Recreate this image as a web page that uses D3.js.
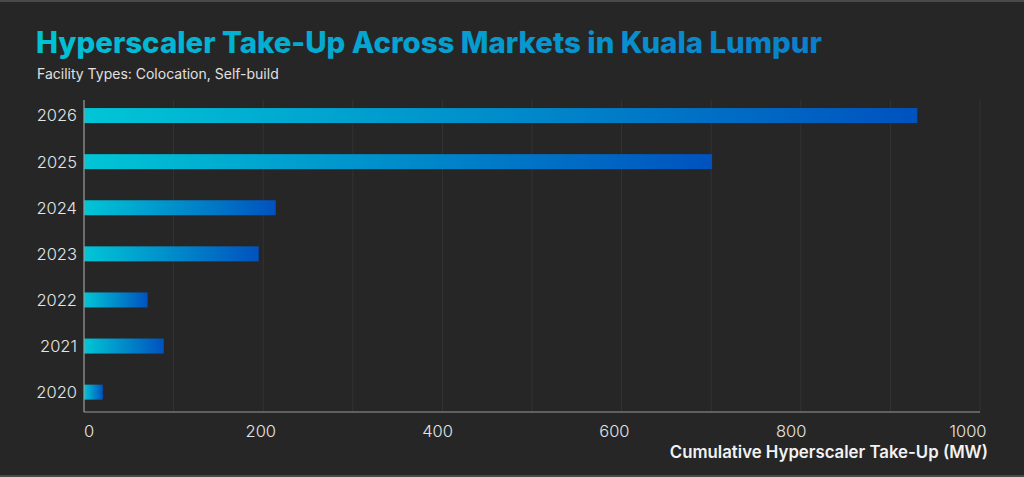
<!DOCTYPE html>
<html>
<head>
<meta charset="utf-8">
<script src="https://d3js.org/d3.v7.min.js"></script>
<style>
  body { margin: 0; background: #262626; }
  svg { display: block; }
</style>
</head>
<body>
<script>
// data
var years = ['2026', '2025', '2024', '2023', '2022', '2021', '2020'];
var takeUp = [930, 701, 214, 195, 71, 89, 21];
var xTicks = [0, 200, 400, 600, 800, 1000];
var gridTicks = [0, 100, 200, 300, 400, 500, 600, 700, 800, 900, 1000];

var W = 1024, H = 477;

var svg = d3.select('body').append('svg')
    .attr('width', W)
    .attr('height', H);

svg.append('rect')
    .attr('width', W)
    .attr('height', H)
    .attr('fill', '#262626');

// thin frame lines top and bottom
svg.append('rect').attr('x', 0).attr('y', 0).attr('width', W).attr('height', 2).attr('fill', '#4a4a4a');
svg.append('rect').attr('x', 0).attr('y', H - 2).attr('width', W).attr('height', 2).attr('fill', '#4a4a4a');

var defs = svg.append('defs');

var titleGrad = defs.append('linearGradient')
    .attr('id', 'titleGrad')
    .attr('x1', '0%').attr('x2', '100%').attr('y1', '0%').attr('y2', '0%');
titleGrad.append('stop').attr('offset', '0%').attr('stop-color', '#00c2d4');
titleGrad.append('stop').attr('offset', '100%').attr('stop-color', '#0a7fcc');

var barGrad = defs.append('linearGradient')
    .attr('id', 'barGrad')
    .attr('x1', '0%').attr('x2', '100%').attr('y1', '0%').attr('y2', '0%');
barGrad.append('stop').attr('offset', '0%').attr('stop-color', '#00c6d6');
barGrad.append('stop').attr('offset', '100%').attr('stop-color', '#0052bf');

var x = d3.scaleLinear().domain([0, 1000]).range([84, 980]);
var y = d3.scaleBand().domain(years).range([92.5, 415.2])
    .paddingInner(0.675).paddingOuter(0.3375);

var axisTop = 100, axisBottom = 412;

// gridlines
svg.append('g')
    .selectAll('line')
    .data(gridTicks)
    .enter()
    .append('line')
    .attr('x1', function(d){ return x(d); })
    .attr('x2', function(d){ return x(d); })
    .attr('y1', axisTop)
    .attr('y2', axisBottom)
    .attr('stroke', '#333333')
    .attr('stroke-width', 1);

// bars
svg.append('g')
    .selectAll('rect')
    .data(years)
    .enter()
    .append('rect')
    .attr('x', x(0))
    .attr('y', function(d){ return y(d); })
    .attr('width', function(d, i){ return x(takeUp[i]) - x(0); })
    .attr('height', y.bandwidth())
    .attr('fill', 'url(#barGrad)');

// axis lines
svg.append('line')
    .attr('x1', x(0)).attr('x2', x(0))
    .attr('y1', axisTop).attr('y2', axisBottom)
    .attr('stroke', '#9a9a9a').attr('stroke-width', 1.2);
svg.append('line')
    .attr('x1', x(0)).attr('x2', x(1000))
    .attr('y1', axisBottom).attr('y2', axisBottom)
    .attr('stroke', '#9a9a9a').attr('stroke-width', 1.2);

// year labels
svg.append('g')
    .selectAll('text')
    .data(years)
    .enter()
    .append('text')
    .attr('x', 77)
    .attr('y', function(d){ return y(d) + y.bandwidth() / 2; })
    .attr('dy', '0.36em')
    .attr('text-anchor', 'end')
    .attr('fill', '#e4e4e4')
    .style('font-family', 'Inter, sans-serif')
    .style('font-weight', '300')
    .style('font-size', '16.5px')
    .text(function(d){ return d; });

// x tick labels
svg.append('g')
    .selectAll('text')
    .data(xTicks)
    .enter()
    .append('text')
    .attr('x', function(d){ return x(d) - d * 0.012; })
    .attr('y', 437)
    .attr('text-anchor', function(d){ return d === 0 ? 'start' : 'middle'; })
    .attr('fill', '#e4e4e4')
    .style('font-family', 'Inter, sans-serif')
    .style('font-weight', '300')
    .style('font-size', '16.5px')
    .text(function(d){ return d; });

// axis title
svg.append('text')
    .attr('x', 988)
    .attr('y', 458)
    .attr('text-anchor', 'end')
    .attr('fill', '#f2f2f2')
    .style('font-family', 'Inter, sans-serif')
    .style('font-weight', '600')
    .style('font-size', '16.8px')
    .text('Cumulative Hyperscaler Take-Up (MW)');

// title + subtitle
svg.append('text')
    .attr('x', 36)
    .attr('y', 53)
    .attr('fill', 'url(#titleGrad)')
    .style('font-family', 'Inter, sans-serif')
    .style('font-weight', '800')
    .style('font-size', '29.4px')
    .text('Hyperscaler Take-Up Across Markets in Kuala Lumpur');

svg.append('text')
    .attr('x', 37)
    .attr('y', 79)
    .attr('fill', '#e0e0e0')
    .style('font-family', 'Inter, sans-serif')
    .style('font-size', '14px')
    .text('Facility Types: Colocation, Self-build');
</script>
</body>
</html>
